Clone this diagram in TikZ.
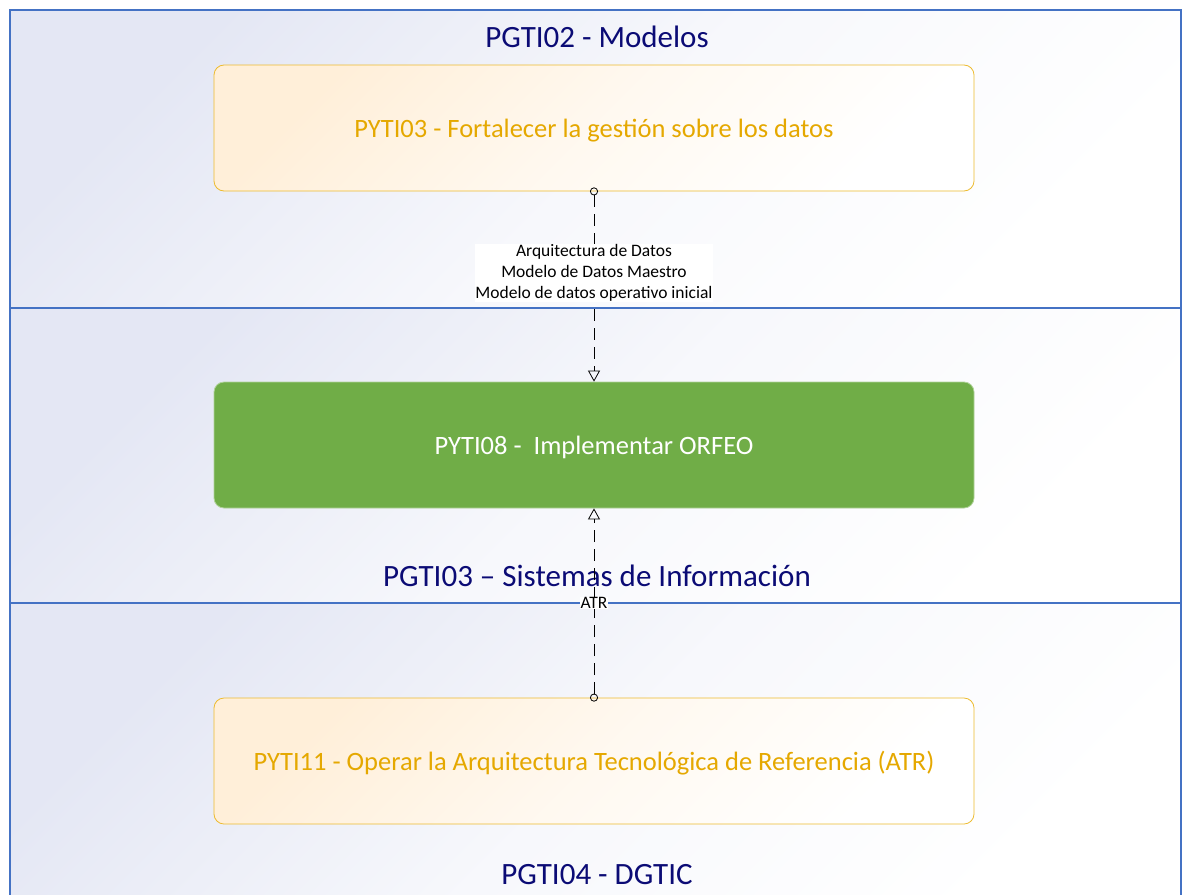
\documentclass[tikz,border=0pt]{standalone}
\usepackage{fontspec}
\setmainfont{Carlito}
\usepackage{xcolor}
\usetikzlibrary{arrows.meta,positioning}

\definecolor{lanebdr}{HTML}{4472C4}
\definecolor{lanebg}{HTML}{E4E7F4}
\definecolor{titletxt}{HTML}{0B0B75}
\definecolor{projtxt}{HTML}{E5A800}
\definecolor{projbdr}{HTML}{EDBB2F}
\definecolor{projbg}{HTML}{FFEFD9}
\definecolor{okgreen}{HTML}{70AD47}

\begin{document}
\begin{tikzpicture}[x=1pt, y=-1pt,
  lane/.style={draw=lanebdr, line width=1.2pt, top color=lanebg,
    bottom color=white, middle color=lanebg!30!white, shading angle=45},
  box/.style={rounded corners=10pt, minimum width=760pt, minimum height=126pt,
    inner sep=3pt, text depth=0pt, font=\fontsize{26.5}{31}\selectfont},
  proj/.style={box, draw=projbdr, line width=0.8pt, text=projtxt,
    top color=projbg, bottom color=white, middle color=projbg!40!white,
    shading angle=45},
  done/.style={box, draw=okgreen!55!white, line width=0.8pt, fill=okgreen,
    text=white},
  title/.style={font=\fontsize{31}{36}\selectfont, text=titletxt, inner sep=0pt},
  lbl/.style={font=\fontsize{17.5}{21}\selectfont, fill=white, inner sep=0.5pt,
    align=center},
  dep/.style={draw, line width=0.8pt, dash pattern=on 12pt off 7pt,
    shorten <=-4pt,
    {Circle[open, length=8pt, width=8pt]}-{Triangle[open, length=11pt, width=12pt]}}]
  \useasboundingbox (0,0) rectangle (1182,894);
  \clip (0,0) rectangle (1182,894);
  % swimlanes
  \draw[lane] (10,10) rectangle (1181,308);
  \draw[lane] (10,308) rectangle (1181,603);
  \draw[lane] (10,603) rectangle (1181,910);
  \node[title] (modelos) at (597,37) {PGTI02 - Modelos};
  \node[title] (sistemas) at (597,576) {PGTI03 – Sistemas de Información};
  \node[title] (dgtic) at (597,875) {PGTI04 - DGTIC};
  % projects
  \node[proj] (pyti03) at (594,128) {PYTI03 - Fortalecer la gestión sobre los datos};
  \node[done] (pyti08) at (594,445) {PYTI08 -\ \ Implementar ORFEO};
  \node[proj] (pyti11) at (594,761) {PYTI11 - Operar la Arquitectura Tecnológica de Referencia (ATR)};
  % dependencies
  \draw[dep] (pyti03) -- node[lbl, pos=.43] (datos)
    {Arquitectura de Datos\\Modelo de Datos Maestro\\Modelo de datos operativo inicial} (pyti08);
  \draw[dep] (pyti11) -- node[lbl, pos=.5] (atr) {ATR} (pyti08);
\end{tikzpicture}
\end{document}
